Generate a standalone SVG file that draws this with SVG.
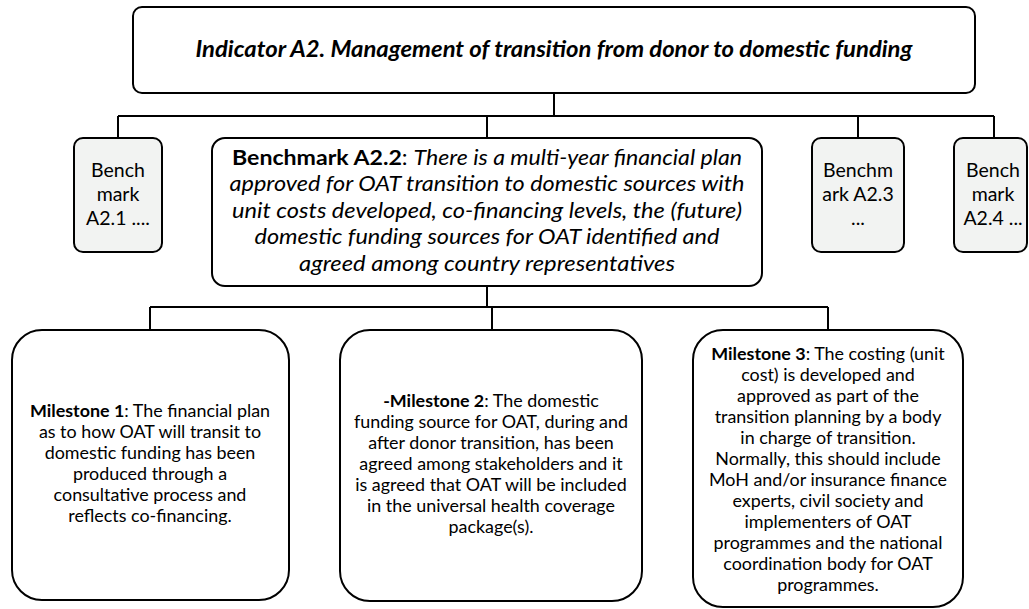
<svg xmlns="http://www.w3.org/2000/svg" width="1029" height="609" viewBox="0 0 1029 609">
<style>
.box{fill:#fff;stroke:#000;stroke-width:2}
.gbox{fill:#f2f3f2;stroke:#000;stroke-width:2}
.conn{fill:none;stroke:#000;stroke-width:2}
text{font-family:Lato,"Liberation Sans",sans-serif;fill:#000;text-anchor:middle}
.title{font-size:22px;font-weight:bold;font-style:italic}
.bm{font-size:19.5px}
.bm2{font-size:21px;font-style:italic}
.ms{font-size:17.9px}
.b{font-weight:bold;font-style:normal}
.n{font-style:normal}
</style>
<g id="connectors">
<path class="conn" d="M554 93V116M118 116H994M118 116V138M487 116V138M858 116V138M994 116V138"/>
<path class="conn" d="M487 286V307M150 307H828M150 307V330M492 307V330M828 307V330"/>
</g>
<g id="indicator">
<rect class="box" x="133" y="7" width="842" height="86" rx="9"/>
<text class="title" x="554" y="57" textLength="717" lengthAdjust="spacingAndGlyphs">Indicator A2. Management of transition from donor to domestic funding</text>
</g>
<g id="benchmark-a21">
<rect class="gbox" x="74" y="138" width="88" height="114" rx="9"/>
<text class="bm" x="118" y="177">Bench</text>
<text class="bm" x="118" y="201">mark</text>
<text class="bm" x="118" y="225">A2.1 ....</text>
</g>
<g id="benchmark-a22">
<rect class="box" x="212" y="138" width="550" height="148" rx="13"/>
<text class="bm2" x="487" y="165" textLength="510" lengthAdjust="spacingAndGlyphs"><tspan class="b">Benchmark A2.2</tspan><tspan class="n">: </tspan>There is a multi-year financial plan</text>
<text class="bm2" x="487" y="191" textLength="515" lengthAdjust="spacingAndGlyphs">approved for OAT transition to domestic sources with</text>
<text class="bm2" x="487" y="218" textLength="510" lengthAdjust="spacingAndGlyphs">unit costs developed, co-financing levels, the (future)</text>
<text class="bm2" x="487" y="244" textLength="465" lengthAdjust="spacingAndGlyphs">domestic funding sources for OAT identified and</text>
<text class="bm2" x="487" y="271" textLength="376" lengthAdjust="spacingAndGlyphs">agreed among country representatives</text>
</g>
<g id="benchmark-a23">
<rect class="gbox" x="812" y="138" width="92" height="114" rx="9"/>
<text class="bm" x="858" y="177">Benchm</text>
<text class="bm" x="858" y="201">ark A2.3</text>
<text class="bm" x="858" y="225">...</text>
</g>
<g id="benchmark-a24">
<rect class="gbox" x="954" y="138" width="73" height="114" rx="9"/>
<text class="bm" x="993" y="177">Bench</text>
<text class="bm" x="993" y="201">mark</text>
<text class="bm" x="993" y="225">A2.4 ...</text>
</g>
<g id="milestone-1">
<rect class="box" x="12" y="330" width="277" height="270" rx="30"/>
<text class="ms" x="150" y="417"><tspan class="b">Milestone 1</tspan>: The financial plan</text>
<text class="ms" x="150" y="438">as to how OAT will transit to</text>
<text class="ms" x="150" y="459">domestic funding has been</text>
<text class="ms" x="150" y="480">produced through a</text>
<text class="ms" x="150" y="501">consultative process and</text>
<text class="ms" x="150" y="522">reflects co-financing.</text>
</g>
<g id="milestone-2">
<rect class="box" x="340" y="330" width="302" height="271" rx="30"/>
<text class="ms" x="491" y="407"><tspan class="b">-Milestone 2</tspan>: The domestic</text>
<text class="ms" x="491" y="428">funding source for OAT, during and</text>
<text class="ms" x="491" y="449">after donor transition, has been</text>
<text class="ms" x="491" y="470">agreed among stakeholders and it</text>
<text class="ms" x="491" y="491">is agreed that OAT will be included</text>
<text class="ms" x="491" y="512">in the universal health coverage</text>
<text class="ms" x="491" y="533">package(s).</text>
</g>
<g id="milestone-3">
<rect class="box" x="693" y="330" width="270" height="277" rx="30"/>
<text class="ms" x="828" y="360"><tspan class="b">Milestone 3</tspan>: The costing (unit</text>
<text class="ms" x="828" y="381">cost) is developed and</text>
<text class="ms" x="828" y="402">approved as part of the</text>
<text class="ms" x="828" y="423">transition planning by a body</text>
<text class="ms" x="828" y="444">in charge of transition.</text>
<text class="ms" x="828" y="465">Normally, this should include</text>
<text class="ms" x="828" y="486">MoH and/or insurance finance</text>
<text class="ms" x="828" y="507">experts, civil society and</text>
<text class="ms" x="828" y="528">implementers of OAT</text>
<text class="ms" x="828" y="549">programmes and the national</text>
<text class="ms" x="828" y="570">coordination body for OAT</text>
<text class="ms" x="828" y="591">programmes.</text>
</g>
</svg>
